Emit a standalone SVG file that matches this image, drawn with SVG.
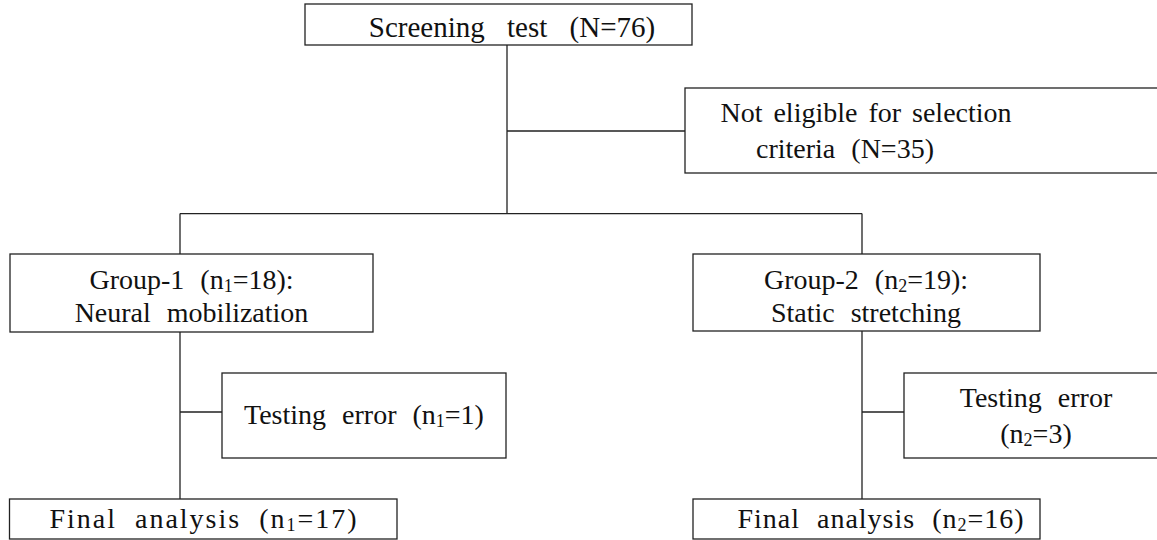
<svg xmlns="http://www.w3.org/2000/svg" width="1157" height="540" viewBox="0 0 1157 540">
<style>
.box{fill:#fff;stroke:#222;stroke-width:1.3}
.ln{fill:none;stroke:#222;stroke-width:1.3}
text{font-size:28px;fill:#111;text-anchor:middle;word-spacing:9px}
.sb{font-size:18px}
</style>
<rect width="1157" height="540" fill="#fff"/>
<g id="connectors">
<path class="ln" d="M507 45V213.6M507 131H685M180 213.6H862M180 213.6V254M862 213.6V254M180 332V499M180 412H222M862 331V499M862 412H904"/>
</g>
<g font-family="'Liberation Serif', 'Times New Roman', 'DejaVu Serif', serif">
<g id="screening">
<rect class="box" x="305" y="4" width="387" height="41"/>
<text x="512" y="37" style="font-size:29px;word-spacing:15px">Screening test (N=76)</text>
</g>
<g id="not-eligible">
<rect class="box" x="685" y="88" width="490" height="85"/>
<text x="866" y="122" style="word-spacing:4px">Not eligible for selection</text>
<text x="845" y="158">criteria (N=35)</text>
</g>
<g id="group1">
<rect class="box" x="10" y="254" width="363" height="78"/>
<text x="191.5" y="289">Group-1 (n<tspan class="sb" dy="3">1</tspan><tspan dy="-3">=18):</tspan></text>
<text x="191.5" y="322">Neural mobilization</text>
</g>
<g id="group2">
<rect class="box" x="693" y="254" width="347" height="77"/>
<text x="866" y="289">Group-2 (n<tspan class="sb" dy="3">2</tspan><tspan dy="-3">=19):</tspan></text>
<text x="866" y="322">Static stretching</text>
</g>
<g id="error1">
<rect class="box" x="222" y="373" width="284" height="85"/>
<text x="364" y="424">Testing error (n<tspan class="sb" dy="3">1</tspan><tspan dy="-3">=1)</tspan></text>
</g>
<g id="error2">
<rect class="box" x="904" y="373" width="270" height="85"/>
<text x="1036" y="407">Testing error</text>
<text x="1036" y="443">(n<tspan class="sb" dy="3">2</tspan><tspan dy="-3">=3)</tspan></text>
</g>
<g id="final1">
<rect class="box" x="9.5" y="499" width="387.5" height="40"/>
<text x="204" y="528" style="letter-spacing:2px">Final analysis (n<tspan class="sb" dy="3">1</tspan><tspan dy="-3">=17)</tspan></text>
</g>
<g id="final2">
<rect class="box" x="693" y="499" width="347" height="40"/>
<text x="881" y="528" style="letter-spacing:1px">Final analysis (n<tspan class="sb" dy="3">2</tspan><tspan dy="-3">=16)</tspan></text>
</g>
</g>
</svg>
